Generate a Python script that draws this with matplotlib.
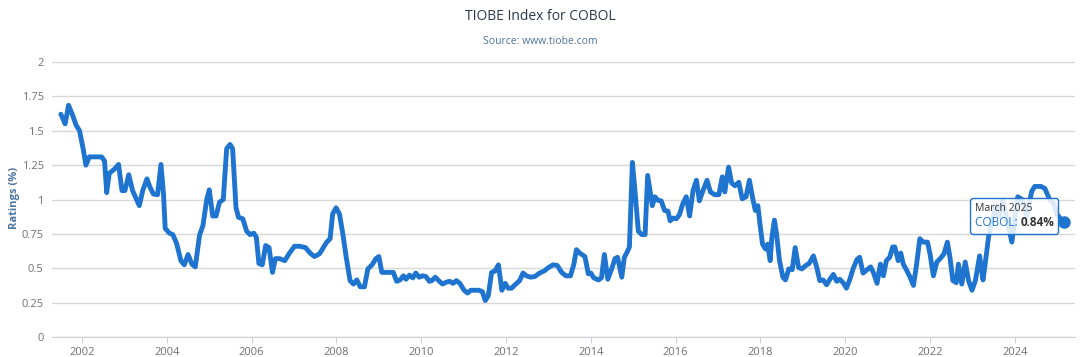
import matplotlib
matplotlib.use("Agg")
import matplotlib.pyplot as plt
from matplotlib.offsetbox import TextArea, HPacker, VPacker, AnnotationBbox

# monthly-ish readings of the TIOBE rating for COBOL (decimal year, %)
years = [
    2001.50, 2001.60, 2001.68, 2001.78, 2001.86, 2001.94, 2002.03, 2002.09, 2002.17, 2002.46,
    2002.53, 2002.58, 2002.64, 2002.76, 2002.86, 2002.94, 2003.01, 2003.10, 2003.19, 2003.35,
    2003.43, 2003.53, 2003.60, 2003.68, 2003.78, 2003.86, 2003.92, 2003.96, 2004.06, 2004.14,
    2004.23, 2004.33, 2004.41, 2004.50, 2004.59, 2004.67, 2004.77, 2004.85, 2004.94, 2005.00,
    2005.08, 2005.16, 2005.24, 2005.33, 2005.41, 2005.49, 2005.55, 2005.63, 2005.69, 2005.79,
    2005.88, 2005.96,
    2006.05, 2006.11, 2006.17, 2006.25, 2006.33, 2006.41, 2006.49, 2006.56, 2006.66, 2006.78,
    2006.88, 2007.01, 2007.13, 2007.27, 2007.38, 2007.48, 2007.60, 2007.69, 2007.77, 2007.85,
    2007.91, 2007.99, 2008.07, 2008.15, 2008.23, 2008.32, 2008.40, 2008.48, 2008.56, 2008.66,
    2008.74, 2008.84, 2008.93, 2009.00, 2009.07, 2009.17, 2009.26, 2009.34, 2009.42, 2009.50,
    2009.58, 2009.64, 2009.72, 2009.80, 2009.87, 2009.95, 2010.03, 2010.11, 2010.19, 2010.25,
    2010.33, 2010.41, 2010.50, 2010.60, 2010.67, 2010.75, 2010.83,
    2010.91, 2011.01, 2011.09, 2011.17, 2011.27, 2011.36, 2011.44, 2011.51, 2011.58, 2011.66,
    2011.74, 2011.82, 2011.90, 2011.98, 2012.05, 2012.13, 2012.23, 2012.32, 2012.40, 2012.48,
    2012.58, 2012.68, 2012.79, 2012.90, 2013.00, 2013.11, 2013.21, 2013.31, 2013.41, 2013.52,
    2013.60, 2013.66, 2013.74, 2013.86, 2013.94, 2014.00, 2014.07, 2014.18, 2014.25, 2014.32,
    2014.40, 2014.49, 2014.57, 2014.63, 2014.73, 2014.79, 2014.86, 2014.91, 2014.98, 2015.04,
    2015.12, 2015.20, 2015.28, 2015.34,
    2015.45, 2015.51, 2015.58, 2015.66, 2015.74, 2015.82, 2015.87, 2015.94, 2016.02, 2016.09,
    2016.17, 2016.25, 2016.33, 2016.41, 2016.49, 2016.56, 2016.64, 2016.74, 2016.82, 2016.92,
    2017.02, 2017.10, 2017.16, 2017.21, 2017.25, 2017.32, 2017.40, 2017.49, 2017.57, 2017.66,
    2017.74, 2017.82, 2017.88, 2017.94, 2017.99, 2018.05, 2018.12, 2018.17, 2018.23, 2018.27,
    2018.33, 2018.38, 2018.45, 2018.53, 2018.59, 2018.67, 2018.75, 2018.82, 2018.90, 2018.98,
    2019.07, 2019.15, 2019.25, 2019.33, 2019.40, 2019.48, 2019.56, 2019.64, 2019.72, 2019.80,
    2019.87, 2019.95, 2020.03,
    2020.11, 2020.19, 2020.28, 2020.34, 2020.42, 2020.50, 2020.60, 2020.67, 2020.75, 2020.83,
    2020.90, 2020.97, 2021.05, 2021.12, 2021.17, 2021.25, 2021.31, 2021.37, 2021.45, 2021.53,
    2021.61, 2021.68, 2021.76, 2021.84, 2021.94, 2022.00, 2022.08, 2022.16, 2022.24, 2022.33,
    2022.41, 2022.47, 2022.54, 2022.62, 2022.67, 2022.75, 2022.83, 2022.91, 2022.99, 2023.07,
    2023.17, 2023.25, 2023.30, 2023.38, 2023.46, 2023.55, 2023.63, 2023.72, 2023.82, 2023.93,
    2024.07, 2024.17, 2024.28, 2024.40, 2024.47, 2024.62, 2024.71, 2024.82, 2024.92, 2025.00,
    2025.08, 2025.17,
]
ratings = [
    1.62, 1.55, 1.685, 1.61, 1.54, 1.50, 1.36, 1.25, 1.31, 1.31,
    1.28, 1.05, 1.19, 1.22, 1.255, 1.065, 1.065, 1.18, 1.065, 0.955,
    1.065, 1.15, 1.09, 1.04, 1.035, 1.255, 1.04, 0.79, 0.755, 0.745,
    0.68, 0.555, 0.525, 0.60, 0.53, 0.51, 0.74, 0.81, 1.00, 1.07,
    0.88, 0.88, 0.98, 1.00, 1.37, 1.40, 1.37, 0.94, 0.87, 0.86,
    0.77, 0.745,
    0.755, 0.725, 0.535, 0.525, 0.665, 0.65, 0.47, 0.57, 0.57, 0.555,
    0.605, 0.66, 0.66, 0.65, 0.61, 0.585, 0.605, 0.65, 0.69, 0.715,
    0.895, 0.94, 0.895, 0.75, 0.58, 0.41, 0.385, 0.415, 0.365, 0.365,
    0.495, 0.525, 0.57, 0.585, 0.47, 0.47, 0.47, 0.47, 0.405, 0.415,
    0.445, 0.42, 0.45, 0.43, 0.465, 0.435, 0.445, 0.44, 0.405, 0.41,
    0.435, 0.41, 0.385, 0.40, 0.405, 0.39, 0.41,
    0.39, 0.34, 0.32, 0.34, 0.34, 0.34, 0.33, 0.265, 0.30, 0.47,
    0.48, 0.525, 0.34, 0.39, 0.355, 0.355, 0.385, 0.41, 0.465, 0.445,
    0.435, 0.44, 0.465, 0.48, 0.505, 0.525, 0.52, 0.47, 0.445, 0.445,
    0.53, 0.635, 0.61, 0.585, 0.46, 0.465, 0.43, 0.415, 0.43, 0.60,
    0.42, 0.495, 0.57, 0.58, 0.435, 0.58, 0.62, 0.655, 1.27, 1.065,
    0.77, 0.745, 0.745, 1.175,
    0.955, 1.02, 0.995, 0.99, 0.92, 0.915, 0.845, 0.865, 0.86, 0.89,
    0.97, 1.02, 0.88, 1.065, 1.14, 0.99, 1.06, 1.14, 1.055, 1.035,
    1.035, 1.165, 1.055, 1.16, 1.235, 1.12, 1.10, 1.125, 1.005, 1.02,
    1.14, 1.005, 0.92, 0.955, 0.82, 0.675, 0.64, 0.675, 0.555, 0.725,
    0.85, 0.75, 0.555, 0.435, 0.415, 0.495, 0.49, 0.65, 0.505, 0.495,
    0.52, 0.535, 0.59, 0.505, 0.41, 0.415, 0.38, 0.42, 0.455, 0.405,
    0.42, 0.395, 0.355,
    0.42, 0.50, 0.565, 0.58, 0.465, 0.485, 0.51, 0.465, 0.39, 0.53,
    0.445, 0.555, 0.58, 0.655, 0.655, 0.555, 0.61, 0.53, 0.485, 0.435,
    0.375, 0.52, 0.715, 0.69, 0.69, 0.605, 0.445, 0.545, 0.57, 0.605,
    0.69, 0.58, 0.41, 0.395, 0.53, 0.385, 0.545, 0.41, 0.34, 0.41,
    0.59, 0.415, 0.53, 0.725, 0.84, 0.96, 0.88, 0.99, 0.85, 0.69,
    1.02, 1.00, 0.88, 1.06, 1.095, 1.095, 1.08, 1.00, 0.97, 0.89,
    0.86, 0.84,
]
year_ticks = list(range(2002, 2025, 2))
rating_ticks = [0, 0.25, 0.5, 0.75, 1, 1.25, 1.5, 1.75, 2]
rating_labels = ["0", "0.25", "0.5", "0.75", "1", "1.25", "1.5", "1.75", "2"]
series_name = "COBOL"
last_month = "March 2025"

line_color = "#1f74d0"
plt.rcParams['font.family'] = ['Open Sans', 'DejaVu Sans']

fig = plt.figure(figsize=(10.8, 3.57), dpi=100)
ax = fig.add_axes([52 / 1080, 20 / 357, 1023 / 1080, 275 / 357])

ax.plot(years, ratings, color=line_color, lw=3.5,
        solid_joinstyle='round', solid_capstyle='round', zorder=3)
ax.plot(years[-1], ratings[-1], 'o', ms=8, color=line_color, zorder=4)

ax.set_xlim(2001.29, 2025.42)
ax.set_ylim(0, 2)
ax.set_yticks(rating_ticks)
ax.set_yticklabels(rating_labels)
ax.set_xticks(year_ticks)
ax.set_xticklabels([str(y) for y in year_ticks])
ax.yaxis.grid(True, color='#d8d8d8', lw=1)
ax.set_axisbelow(True)
for s in ['top', 'right', 'left']:
    ax.spines[s].set_visible(False)
ax.spines['bottom'].set_color('#c8d0d8')
ax.tick_params(axis='y', length=0, labelsize=8, labelcolor='#707070', pad=6)
ax.tick_params(axis='x', length=4, color='#c8d0d8', labelsize=8,
               labelcolor='#707070', pad=3)

fig.text(0.5, 1 - 16 / 357, "TIOBE Index for COBOL", ha='center', va='center',
         fontsize=10, color='#2b3a4a')
fig.text(0.5, 1 - 41 / 357, "Source: www.tiobe.com", ha='center', va='center',
         fontsize=7.5, color='#4d759e')
fig.text(15 / 1080, 1 - 198 / 357, "Ratings (%)", rotation=90, ha='center', va='center',
         fontsize=8, color='#4d759e', fontweight='bold')

# tooltip on the last point
t1 = TextArea(last_month, textprops=dict(color='#333333', size=7.5))
t2 = TextArea(series_name + ": ", textprops=dict(color=line_color, size=8.5))
t3 = TextArea(f"{ratings[-1]:.2f}%", textprops=dict(color='#333333', size=8.5, fontweight='bold'))
row = HPacker(children=[t2, t3], align='baseline', pad=0, sep=0)
box = VPacker(children=[t1, row], align='left', pad=0, sep=2)
ab = AnnotationBbox(box, (years[-1], ratings[-1]), xybox=(-36, 4),
                    boxcoords='offset points', box_alignment=(0.5, 0.5),
                    frameon=True, pad=0.3, zorder=5,
                    bboxprops=dict(boxstyle='round,pad=0.3,rounding_size=0.2',
                                   fc=(1, 1, 1, 0.85), ec=line_color, lw=1))
ax.add_artist(ab)

fig.savefig("out.png", dpi=100)
